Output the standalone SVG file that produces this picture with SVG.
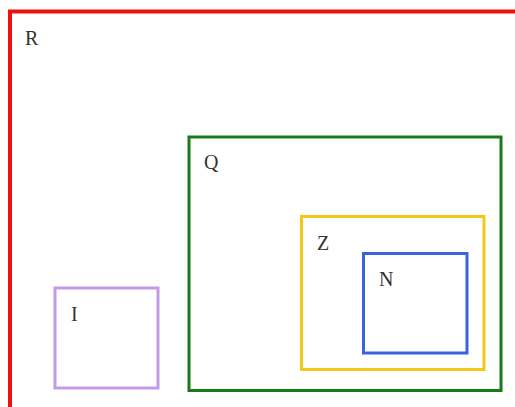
<svg xmlns="http://www.w3.org/2000/svg" width="515" height="407" viewBox="0 0 515 407">
<style>
rect{fill:none;stroke-width:3}
text{font-family:"Liberation Serif","DejaVu Serif",serif;font-size:20px;fill:#333}
</style>
<rect x="0" y="0" width="515" height="407" style="fill:#fff;stroke:none"/>
<g id="R"><rect x="10" y="11.5" width="520" height="410" stroke="#ee1111" style="stroke-width:4"/><text x="25" y="45">R</text></g>
<g id="Q"><rect x="189" y="137" width="312" height="253.5" stroke="#1a7a1a"/><text x="204" y="169">Q</text></g>
<g id="Z"><rect x="301.5" y="216.5" width="182.5" height="153" stroke="#f2c81a"/><text x="317" y="250">Z</text></g>
<g id="N"><rect x="363.5" y="253.5" width="103.5" height="99.5" stroke="#3b63e0"/><text x="379" y="286">N</text></g>
<g id="I"><rect x="55" y="288" width="103" height="100" stroke="#c49ae8"/><text x="71" y="321">I</text></g>
<g id="connectors"></g>
</svg>
